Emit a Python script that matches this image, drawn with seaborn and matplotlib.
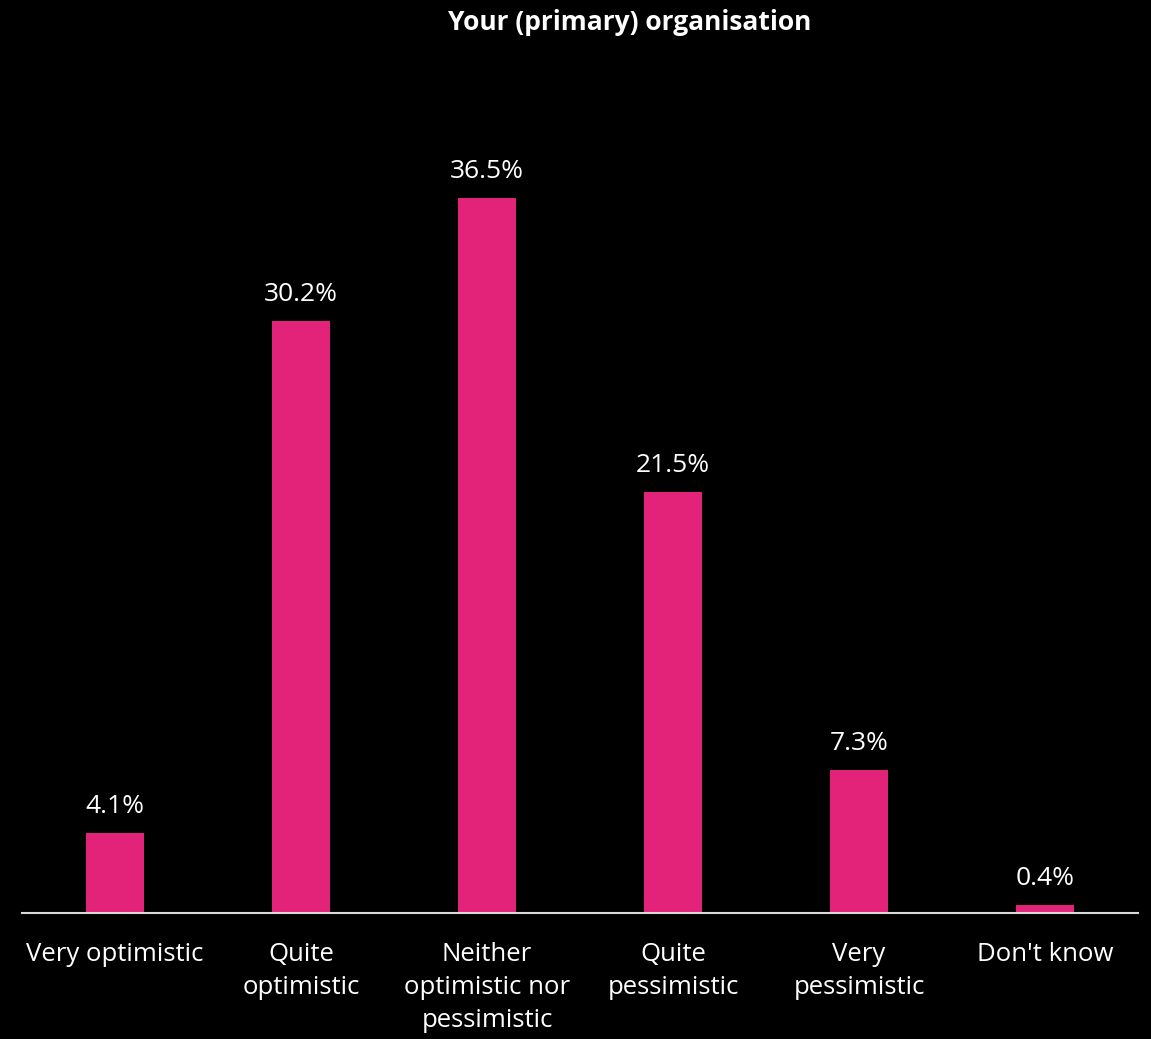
import matplotlib
matplotlib.use("Agg")
import matplotlib.pyplot as plt
import seaborn as sns
import pandas as pd

categories = ["Very optimistic", "Quite\noptimistic", "Neither\noptimistic nor\npessimistic",
              "Quite\npessimistic", "Very\npessimistic", "Don't know"]
values = [4.1, 30.2, 36.5, 21.5, 7.3, 0.4]
title = "Your (primary) organisation"

bar_color = "#E3237A"
bg = "#000000"

sns.set_theme(style="white")
plt.rcParams["font.family"] = ["Open Sans", "DejaVu Sans"]

df = pd.DataFrame({"category": categories, "value": values})

fig = plt.figure(figsize=(11.51, 10.39), dpi=100, facecolor=bg)
ax = fig.add_axes([22 / 1151, 1 - 913 / 1039, (1138 - 22) / 1151, (913 - 129.4) / 1039])
ax.set_facecolor(bg)

sns.barplot(data=df, x="category", y="value", color=bar_color, saturation=1,
            width=0.31, linewidth=0, edgecolor="none", ax=ax)

ax.set_xlim(-0.5, len(categories) - 0.5)
ax.set_ylim(0, 40)

for i, v in enumerate(values):
    ax.annotate(f"{v:.1f}%", (i, v), xytext=(0, 10), textcoords="offset points",
                ha="center", va="bottom", color="white", fontsize=19)

ax.set_xlabel("")
ax.set_ylabel("")
ax.set_yticks([])
ax.tick_params(axis="x", length=0, pad=21, colors="white", labelsize=18.5)
for lbl in ax.get_xticklabels():
    lbl.set_linespacing(1.42)
    lbl.set_va("top")

for side in ["left", "right", "top"]:
    ax.spines[side].set_visible(False)
ax.spines["bottom"].set_color("#D9D9D9")
ax.spines["bottom"].set_linewidth(1.5)

fig.text(630 / 1151, 1 - 22 / 1039, title, ha="center", va="center",
         color="white", fontsize=19, fontweight="bold")

fig.savefig("out.png", dpi=100, facecolor=bg)
